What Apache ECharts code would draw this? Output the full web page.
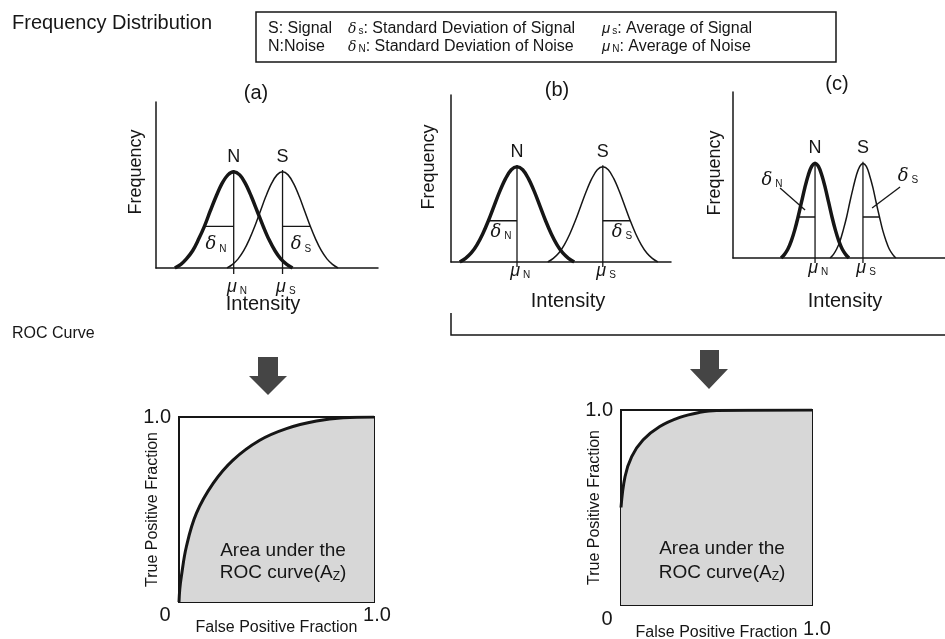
<!DOCTYPE html>
<html>
<head>
<meta charset="utf-8">
<script src="https://cdn.jsdelivr.net/npm/echarts@6/dist/echarts.min.js"></script>
<style>html,body{margin:0;padding:0;background:#fff}#c{width:945px;height:639px}</style>
</head>
<body>
<div id="c"></div>
<script>
// ---------- data (arbitrary units, 0-100) ----------
// Panel (a)
const aNoise = [[8.5,0],[11.2,2.2],[13.7,5.5],[16.5,10.4],[19.1,17.1],[21.8,25.1],[24.4,34.2],[27.1,43.2],[29.7,50.8],[32.4,56.1],[35,58],[37.7,56.1],[40.3,50.8],[42.9,43.2],[45.6,34.2],[48.3,25.1],[50.9,17.1],[53.6,10.4],[56.2,5.5],[58.9,2.2],[61.5,0]];
const aSignal = [[32,0],[34.5,2.2],[37,5.5],[39.5,10.4],[42,17.1],[44.5,25.1],[47,34.2],[49.5,43.2],[52,50.8],[54.5,56.1],[57,58],[59.5,56.1],[62,50.8],[64.5,43.2],[67,34.2],[69.5,25.1],[72,17.1],[74.5,10.4],[77,5.5],[79.5,2.2],[82,0]];
// Panel (b)
const bNoise = [[4,0],[6.6,2.2],[9.2,5.4],[11.8,10.3],[14.4,16.8],[17,24.7],[19.6,33.6],[22.2,42.4],[24.8,49.9],[27.4,55.2],[30,57],[32.6,55.2],[35.2,49.9],[37.8,42.4],[40.4,33.6],[43,24.7],[45.6,16.8],[48.2,10.3],[50.8,5.4],[53.4,2.2],[56,0]];
const bSignal = [[44,0],[46.5,2.2],[49,5.4],[51.5,10.3],[54,16.8],[56.5,24.7],[59,33.6],[61.5,42.4],[64,49.9],[66.5,55.2],[69,57],[71.5,55.2],[74,49.9],[76.5,42.4],[79,33.6],[81.5,24.7],[84,16.8],[86.5,10.3],[89,5.4],[91.5,2.2],[94,0]];
// Panel (c)
const cNoise = [[22.7,0],[24.3,2.2],[25.9,5.4],[27.5,10.3],[29.1,16.8],[30.7,24.7],[32.3,33.6],[33.9,42.4],[35.5,49.9],[37.1,55.2],[38.7,57],[40.3,55.2],[41.9,49.9],[43.5,42.4],[45.1,33.6],[46.7,24.7],[48.3,16.8],[49.9,10.3],[51.5,5.4],[53.1,2.2],[54.7,0]];
const cSignal = [[45.8,0],[47.4,2.2],[48.9,5.4],[50.5,10.3],[52,16.8],[53.6,24.7],[55.1,33.6],[56.7,42.4],[58.2,49.9],[59.8,55.2],[61.3,57],[62.9,55.2],[64.4,49.9],[66,42.4],[67.5,33.6],[69.1,24.7],[70.6,16.8],[72.2,10.3],[73.7,5.4],[75.3,2.2],[76.8,0]];
// means and peaks per panel [a, b, c]
const meanNoise  = [35, 30, 38.7];
const meanSignal = [57, 69, 61.3];
const peakHeight = [58, 57, 57];
// standard deviation marker lines: x where the line meets the curve, and its height
const sdNoiseX  = [21.8, 17, 30.7];
const sdSignalX = [69.5, 81.5, 69.1];
const sdHeight  = [25.1, 24.7, 24.7];
// position of the sigma labels [x, y] per panel
const sdNoiseLabel  = [[27, 14], [22.7, 18], [18.4, 47]];
const sdSignalLabel = [[65.3, 14], [77.7, 18], [82.5, 49]];
// leader lines in panel (c)
const leaderNoise  = [[22.2, 42.2], [34, 28.9]];
const leaderSignal = [[78.8, 42.8], [65.6, 30.1]];
// mean-label heights (below the baseline) per panel
const muLabelY = [-11.5, -5.5, -6];
// ROC curves (FPF, TPF)
const rocA = [[0,0],[0.004,0.07],[0.012,0.138],[0.038,0.30],[0.089,0.479],[0.175,0.641],[0.277,0.767],[0.414,0.874],[0.551,0.937],[0.705,0.978],[0.842,0.996],[1,1]];
const rocB = [[0,0.5],[0.021,0.658],[0.056,0.761],[0.115,0.846],[0.203,0.915],[0.308,0.962],[0.413,0.988],[0.5,0.998],[1,1]];
const panelNames = ['(a)', '(b)', '(c)'];

// ---------- chart ----------
const FONT = 'Liberation Sans';
const INK = '#161616';
const chart = echarts.init(document.getElementById('c'), null, {renderer: 'canvas'});

const gridBase = {outerBoundsMode:'none', containLabel:false};
const grids = [
  Object.assign({left:156, top:102, width:222, height:166}, gridBase),
  Object.assign({left:451, top:95,  width:220, height:167}, gridBase),
  Object.assign({left:733, top:92,  width:212, height:166}, gridBase),
  Object.assign({left:179, top:417, width:195, height:185, show:true, borderColor:INK, borderWidth:2, backgroundColor:'transparent'}, gridBase),
  Object.assign({left:621, top:410, width:191, height:195, show:true, borderColor:INK, borderWidth:2, backgroundColor:'transparent'}, gridBase)
];

const xAxes = [], yAxes = [];
for (let i = 0; i < 3; i++) {
  xAxes.push({gridIndex:i, type:'value', min:0, max:100, axisLine:{lineStyle:{color:INK,width:1.5}}, axisTick:{show:false}, axisLabel:{show:false}, splitLine:{show:false}});
  yAxes.push({gridIndex:i, type:'value', min:0, max:100, axisLine:{show:true,lineStyle:{color:INK,width:1.5}}, axisTick:{show:false}, axisLabel:{show:false}, splitLine:{show:false}});
}
const rocNameGapX = [18, 20];
const rocLabelMargin = [3, 4];
const rocOnePad = [[0,0,0,6], [10,0,0,10]];
for (let i = 0; i < 2; i++) {
  xAxes.push({gridIndex:3+i, type:'value', min:0, max:1, interval:1,
    name:'False Positive Fraction', nameLocation:'middle', nameGap:rocNameGapX[i], nameMoveOverlap:false,
    nameTextStyle:{fontFamily:FONT, fontSize:16, color:INK},
    axisLine:{lineStyle:{color:INK,width:2}}, axisTick:{show:false}, splitLine:{show:false},
    axisLabel:{fontFamily:FONT, fontSize:20, color:INK, margin: rocLabelMargin[i],
      formatter: v => v === 0 ? '{z|0}' : '{o|1.0}',
      rich:{z:{fontFamily:FONT,fontSize:20,color:INK,padding:[0,28,0,0]}, o:{fontFamily:FONT,fontSize:20,color:INK,padding:rocOnePad[i]}}}});
  yAxes.push({gridIndex:3+i, type:'value', min:0, max:1, interval:1,
    name:'True Positive Fraction', nameLocation:'middle', nameGap:18, nameRotate:90, nameMoveOverlap:false,
    nameTextStyle:{fontFamily:FONT, fontSize:16, color:INK},
    axisLine:{show:true,lineStyle:{color:INK,width:2}}, axisTick:{show:false}, splitLine:{show:false},
    axisLabel:{fontFamily:FONT, fontSize:20, color:INK, margin:8, formatter: v => v === 0 ? '' : '1.0'}});
}

const series = [];
function curve(idx, data, w) {
  series.push({type:'line', xAxisIndex:idx, yAxisIndex:idx, data:data, smooth:0.35, symbol:'none',
    lineStyle:{color:INK, width:w}, z:3, silent:true});
}
function seg(idx, data, w) {
  series.push({type:'line', xAxisIndex:idx, yAxisIndex:idx, data:data, symbol:'none', clip:false,
    lineStyle:{color:INK, width:w}, z:4, silent:true});
}
const curvesN = [aNoise, bNoise, cNoise];
const curvesS = [aSignal, bSignal, cSignal];
const tickDepth = [3.6, 3, 3];
for (let i = 0; i < 3; i++) {
  curve(i, curvesN[i], 3.5);
  curve(i, curvesS[i], 1.5);
  seg(i, [[meanNoise[i], -tickDepth[i]], [meanNoise[i], peakHeight[i] + 1]], 1.3);
  seg(i, [[meanSignal[i], -tickDepth[i]], [meanSignal[i], peakHeight[i] + 1]], 1.3);
  seg(i, [[sdNoiseX[i], sdHeight[i]], [meanNoise[i], sdHeight[i]]], 1.3);
  seg(i, [[meanSignal[i], sdHeight[i]], [sdSignalX[i], sdHeight[i]]], 1.3);
}
seg(2, leaderNoise, 1.3);
seg(2, leaderSignal, 1.3);

const rocs = [rocA, rocB];
for (let i = 0; i < 2; i++) {
  series.push({type:'line', xAxisIndex:3+i, yAxisIndex:3+i, data:rocs[i], smooth:0.4, symbol:'none',
    lineStyle:{color:INK, width:3}, areaStyle:{color:'#d7d7d7', opacity:1}, z:2, silent:true});
}

// ---------- annotations ----------
const T = (x, y, text, fs, extra) => Object.assign({type:'text', x:x, y:y, z:100,
  style:{text:text, fontFamily:FONT, fontSize:fs, fill:INK, align:'center', verticalAlign:'middle'}}, extra || {});
const legendRich = {
  g:{fontFamily:FONT, fontStyle:'italic', fontSize:15, fill:INK},
  d:{fontFamily:'DejaVu Serif', fontStyle:'italic', fontSize:14, fill:INK},
  s:{fontFamily:FONT, fontSize:10, fill:INK, padding:[5,0,0,2]},
  t:{fontFamily:FONT, fontSize:16, fill:INK}
};
const LT = (x, y, text) => ({type:'text', x:x, y:y, z:100, style:{text:text, rich:legendRich, fontFamily:FONT, fontSize:16, fill:INK, align:'left', verticalAlign:'middle'}});
const azRich = {z:{fontFamily:FONT, fontSize:12, fill:INK, padding:[8,0,0,0]}};
const graphic = [
  {type:'text', x:12, y:23, z:100, style:{text:'Frequency Distribution', fontFamily:FONT, fontSize:20, fill:INK, align:'left', verticalAlign:'middle'}},
  {type:'text', x:12, y:334, z:100, style:{text:'ROC Curve', fontFamily:FONT, fontSize:16, fill:INK, align:'left', verticalAlign:'middle'}},
  {type:'rect', z:100, shape:{x:256, y:12, width:580, height:50}, style:{fill:'none', stroke:INK, lineWidth:1.5}},
  LT(268, 29, '{t|S: Signal}'),
  LT(268, 47, '{t|N:Noise}'),
  LT(348, 29, '{d|δ}{s|s}{t|: Standard Deviation of Signal}'),
  LT(348, 47, '{d|δ}{s|N}{t|: Standard Deviation of Noise}'),
  LT(602, 29, '{g|μ}{s|s}{t|: Average of Signal}'),
  LT(602, 47, '{g|μ}{s|N}{t|: Average of Noise}'),
  T(256, 93, panelNames[0], 20), T(557, 90, panelNames[1], 20), T(837, 84, panelNames[2], 20),
  T(136, 172, 'Frequency', 18, {rotation:Math.PI/2}),
  T(429, 167, 'Frequency', 18, {rotation:Math.PI/2}),
  T(715, 173, 'Frequency', 18, {rotation:Math.PI/2}),
  T(263, 304, 'Intensity', 20), T(568, 301, 'Intensity', 20), T(845, 301, 'Intensity', 20),
  {type:'polyline', z:100, shape:{points:[[451,313],[451,335],[945,335]]}, style:{stroke:INK, lineWidth:1.5, fill:'none'}},
  {type:'polygon', z:100, shape:{points:[[258,357],[278,357],[278,376],[287,376],[268,395],[249,376],[258,376]]}, style:{fill:'#454545'}},
  {type:'polygon', z:100, shape:{points:[[700,350],[719,350],[719,369],[728,369],[709,389],[690,369],[700,369]]}, style:{fill:'#454545'}},
  T(283, 551, 'Area under the', 19),
  T(283, 573, 'ROC curve(A{z|Z})', 19, {style:{text:'ROC curve(A{z|Z})', fontFamily:FONT, fontSize:19, fill:INK, align:'center', verticalAlign:'middle', rich:azRich}}),
  T(722, 549, 'Area under the', 19),
  T(722, 573, 'ROC curve(A{z|Z})', 19, {style:{text:'ROC curve(A{z|Z})', fontFamily:FONT, fontSize:19, fill:INK, align:'center', verticalAlign:'middle', rich:azRich}})
];

chart.setOption({
  backgroundColor:'#ffffff',
  animation:false,
  grid:grids, xAxis:xAxes, yAxis:yAxes, series:series, graphic:graphic
});

// labels placed through the axes' own scales
const greekRich = {
  d:{fontFamily:'DejaVu Serif', fontStyle:'italic', fontSize:18, fill:INK},
  m:{fontFamily:FONT, fontStyle:'italic', fontSize:18, fill:INK},
  s:{fontFamily:FONT, fontSize:10, fill:INK, padding:[8,0,0,3]}
};
function dataText(idx, pt, text, fs) {
  const p = chart.convertToPixel({gridIndex:idx}, pt);
  return {type:'text', x:p[0], y:p[1], z:100, style:{text:text, rich:greekRich, fontFamily:FONT, fontSize:fs||18, fill:INK, align:'center', verticalAlign:'middle'}};
}
const extra = [];
for (let i = 0; i < 3; i++) {
  extra.push(dataText(i, [meanNoise[i], peakHeight[i] + 9], 'N'));
  extra.push(dataText(i, [meanSignal[i], peakHeight[i] + 9], 'S'));
  extra.push(dataText(i, [meanNoise[i] + 1.5, muLabelY[i]], '{m|μ}{s|N}'));
  extra.push(dataText(i, [meanSignal[i] + 1.5, muLabelY[i]], '{m|μ}{s|S}'));
  extra.push(dataText(i, sdNoiseLabel[i], '{d|δ}{s|N}'));
  extra.push(dataText(i, sdSignalLabel[i], '{d|δ}{s|S}'));
}
chart.setOption({graphic: graphic.concat(extra)});
</script>
</body>
</html>
